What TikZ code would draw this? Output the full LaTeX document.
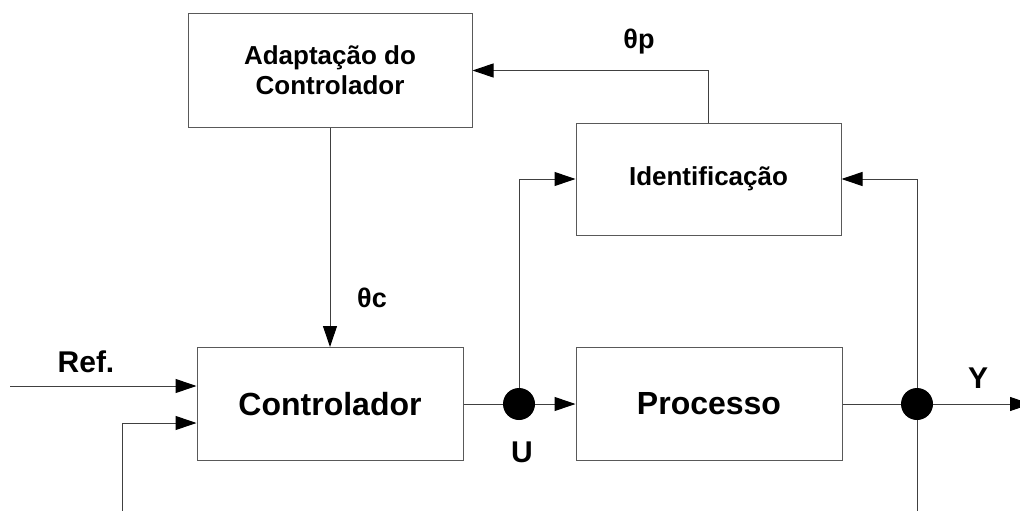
\documentclass[tikz,border=0pt]{standalone}
\usepackage{fontspec}
\setmainfont{Liberation Sans}
\usetikzlibrary{arrows.meta}
\tikzset{block/.style={draw=black!65, line width=1pt, fill=white, align=center, inner sep=0pt, font=\bfseries},
    bigblock/.style={block, minimum width=266pt, minimum height=113pt, font=\bfseries\fontsize{32}{36}\selectfont},
    smallblock/.style={block, font=\bfseries\fontsize{26}{30}\selectfont},
    junction/.style={circle, fill=black, draw=none, minimum size=32pt, inner sep=0pt},
    sig/.style={font=\bfseries\fontsize{30}{34}\selectfont},
    wire/.style={draw=black!75, line width=1pt},
    arr/.style={wire, -{Triangle[length=21pt, width=14pt, black]}}}

\begin{document}
\begin{tikzpicture}[x=1pt, y=-1pt]
    \useasboundingbox (0,0) rectangle (1020,511);

    \node (adapt) at (330, 70.5) [smallblock, minimum width=284pt, minimum height=113pt] {Adaptação do\\Controlador};
    \node (ident) at (708.5, 179) [smallblock, minimum width=265pt, minimum height=112pt] {Identificação};
    \node (ctrl) at (330, 404) [bigblock] {Controlador};
    \node (proc) at (709, 404) [bigblock] {Processo};

    \node (u) at (519, 404) [junction] {};
    \node (y) at (917, 404) [junction] {};

    \coordinate (refin) at (10, 386);
    \coordinate (fbbot) at (122, 511);
    \coordinate (fbc) at (122, 423);
    \coordinate (ybot) at (917, 511);
    \coordinate (yout) at (1031, 404);

    \draw [arr] (refin) -- (refin -| ctrl.west);
    \draw [arr] (fbbot) -- (fbc) -- (fbc -| ctrl.west);
    \draw [arr] (adapt.south) -- (ctrl.north);
    \draw [wire] (ctrl.east) -- (u);
    \draw [arr] (u) -- (proc.west);
    \draw [arr] (u) -- (u |- ident.west) -- (ident.west);
    \draw [wire] (proc.east) -- (y);
    \draw [arr] (y) -- (yout);
    \draw [wire] (y) -- (ybot);
    \draw [arr] (y) -- (y |- ident.east) -- (ident.east);
    \draw [arr] (ident.north) -- (ident.north |- adapt.east) -- (adapt.east);

    \node (lref) at (86, 362) [sig] {Ref.};
    \node (lu) at (522, 452) [sig] {U};
    \node (ly) at (978, 378) [sig] {Y};
    \node (lthc) at (372, 298) [sig, font=\bfseries\fontsize{27}{30}\selectfont] {θc};
    \node (lthp) at (639, 42) [sig, font=\bfseries\fontsize{27}{30}\selectfont] {θp};
\end{tikzpicture}
\end{document}
